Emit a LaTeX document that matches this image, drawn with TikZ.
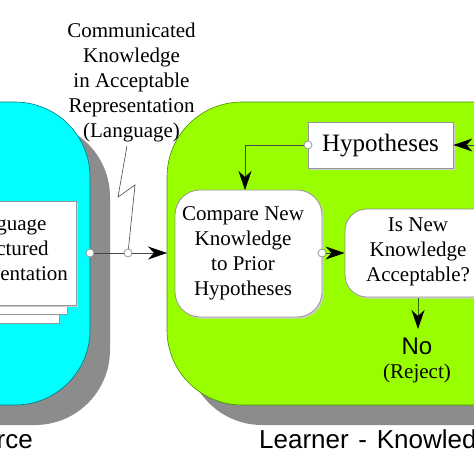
\documentclass[tikz,border=0pt]{standalone}
\usepackage{fontspec}
\setmainfont{Liberation Serif}
\newfontfamily\arialf{Liberation Sans}
\usetikzlibrary{arrows.meta,shadows}
\definecolor{cyanfill}{RGB}{0,255,255}
\definecolor{greenfill}{RGB}{153,255,0}
\definecolor{shadowgray}{RGB}{140,140,140}
\definecolor{cyanedge}{RGB}{0,120,130}
\definecolor{greenedge}{RGB}{70,140,0}
\definecolor{boxedge}{RGB}{150,150,150}
\definecolor{boxshadow}{RGB}{205,205,205}
\definecolor{linegray}{RGB}{70,70,70}
\begin{document}
\begin{tikzpicture}[x=1pt,y=-1pt,
  txt/.style={font=\fontsize{21}{25}\selectfont, align=center, inner sep=0pt},
  bigtxt/.style={font=\arialf\fontsize{26}{30}\selectfont, inner sep=0pt},
  box/.style={draw=boxedge, fill=white, line width=0.8pt,
    drop shadow={shadow xshift=1.6pt, shadow yshift=-1.6pt, fill=boxshadow, opacity=1}},
  page/.style={draw=boxedge, fill=white, line width=0.8pt, minimum width=142pt, minimum height=104pt, inner sep=0pt},
  port/.style={circle, draw=boxedge, fill=white, line width=0.8pt, inner sep=0pt, minimum size=8pt},
  conn/.style={draw=linegray, line width=0.7pt},
  arr/.style={conn, -{Stealth[length=19pt, width=13pt, inset=6pt, fill=black, color=black]}}
]
\useasboundingbox (0,0) rectangle (474,474);
\clip (0,0) rectangle (474,474);
\fill[white] (0,0) rectangle (474,474);

% source panel
\fill[shadowgray, rounded corners=75pt] (-180,122) rectangle (110,425);
\filldraw[fill=cyanfill, draw=cyanedge, line width=0.6pt, rounded corners=75pt] (-200,102) rectangle (90,405);
% learner panel
\fill[shadowgray, rounded corners=75pt] (187,122) rectangle (720,425);
\filldraw[fill=greenfill, draw=greenedge, line width=0.6pt, rounded corners=75pt] (167,102) rectangle (700,405);

% document stack
\node[page] (page3) at (-12,271) {};
\node[page] (page2) at (-4,262) {};
\node[page, drop shadow={shadow xshift=1.6pt, shadow yshift=-1.6pt, fill=boxshadow, opacity=1}] (page1) at (5,253) {};
\node[txt] (doc) at (5,251) {Language\\Structured\\Representation};

% communicated label
\node[txt] (comm) at (131.5,82) {Communicated\\Knowledge\\in Acceptable\\Representation\\(Language)};

% learner boxes
\node[box, minimum width=145pt, minimum height=46pt, inner sep=0pt] (hyp) at (380.5,145) {};
\node[font=\fontsize{25}{30}\selectfont, inner sep=0pt] (hyptext) at (380.5,146) {Hypotheses};
\node[box, rounded corners=25pt, minimum width=147pt, minimum height=127pt, inner sep=0pt] (cmp) at (248.5,253.5) {};
\node[txt] (cmptext) at (243,253) {Compare New\\Knowledge\\to Prior\\Hypotheses};
\node[box, rounded corners=22pt, minimum width=185pt, minimum height=88pt, inner sep=0pt] (acc) at (437.5,253) {};
\node[txt] (acctext) at (418,252) {Is New\\Knowledge\\Acceptable?};
\node[font=\arialf\fontsize{24}{28}\selectfont, inner sep=0pt] (no) at (417,346) {No};
\node[font=\fontsize{21}{25}\selectfont, inner sep=0pt] (reject) at (417,373) {(Reject)};

% bottom labels
\node[bigtxt, anchor=base east] (srclabel) at (33,448) {Source};
\node[bigtxt, anchor=base west] (lrnlabel) at (259,448) {Learner\hspace{2.5pt} - \hspace{2.5pt}Knowledge};

% ports
\node[port] (c1) at (90,253) {};
\node[port] (c2) at (128,253) {};
\node[port] (hport) at (308,145) {};
\node[port] (cport) at (322,253) {};
\coordinate (greenin) at (167,253);
\coordinate (z0) at (127,146);
\coordinate (z1) at (118,197);
\coordinate (z2) at (135,185);
\coordinate (hin) at (480,145);
\coordinate (hbend) at (245,145);
\coordinate (cmptop) at (245,190);
\coordinate (accbot) at (418,297.5);
\coordinate (notop) at (418,329);

% connectors
\draw[conn] (c1) -- (c2);
\draw[arr] (c2) -- (greenin);
\draw[conn, line width=0.6pt] (z0) -- (z1) -- (z2) -- (c2);
\draw[arr] (hport) -- (hbend) -- (cmptop);
\draw[arr] (hin) -- (hyp.east);
\draw[arr] (cport) -- (acc.west);
\draw[arr, draw=greenedge!70!black] (accbot) -- (notop);
\end{tikzpicture}
\end{document}
